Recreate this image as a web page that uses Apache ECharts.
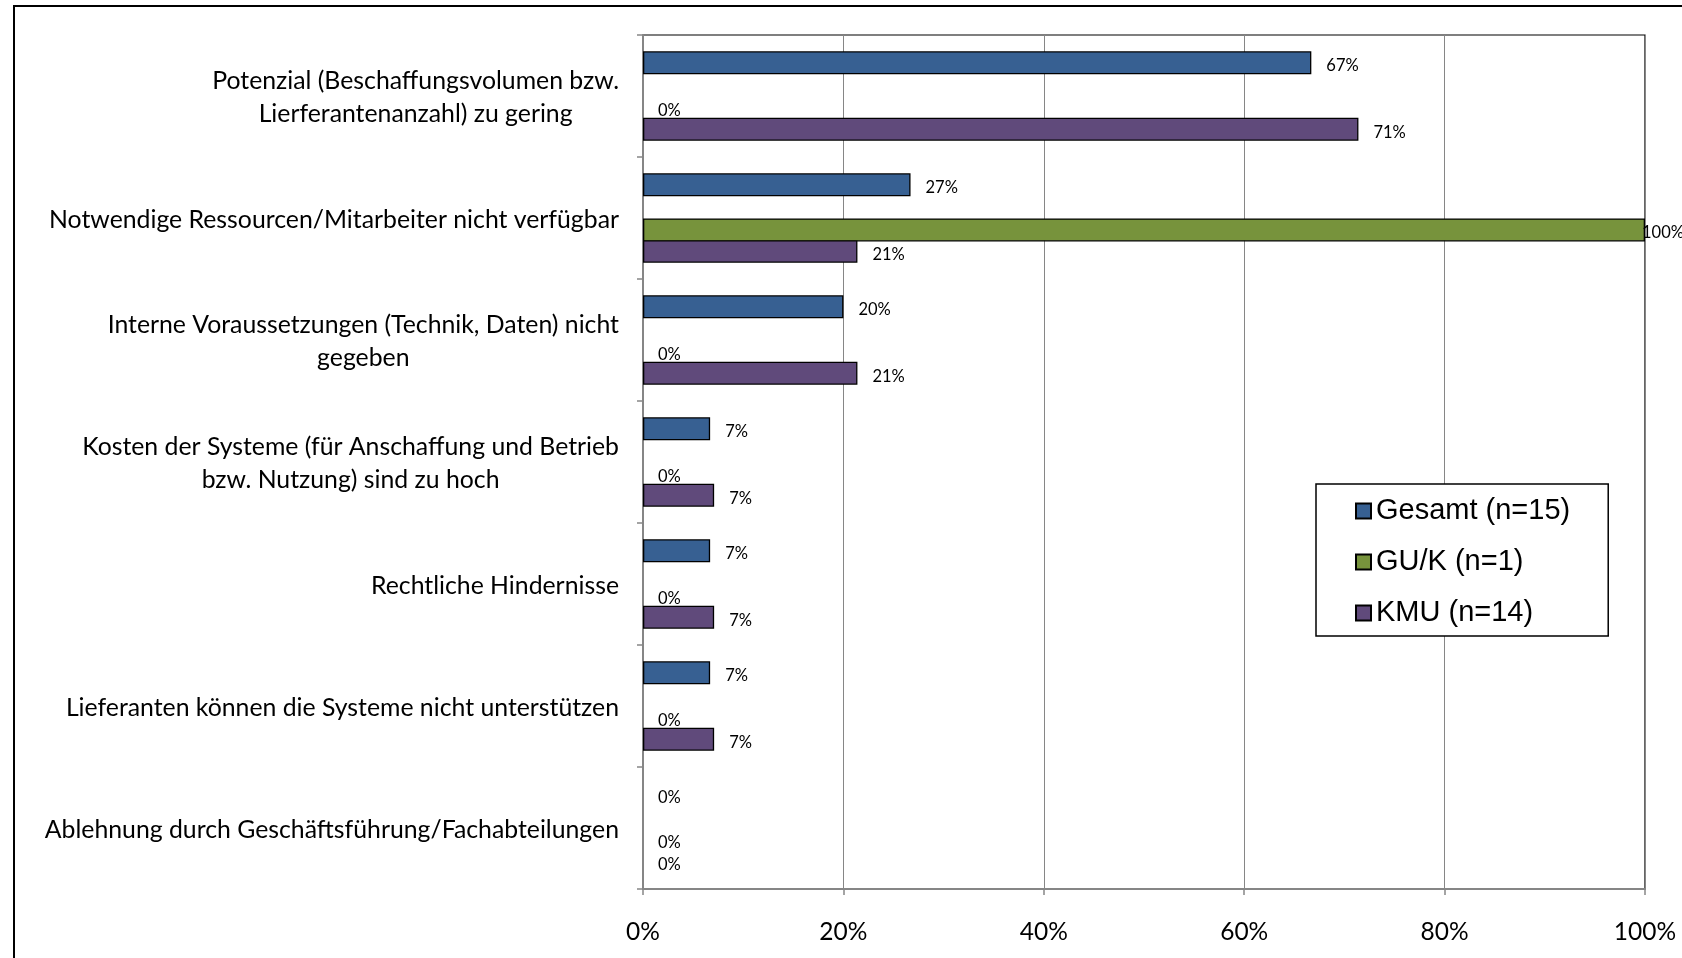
<!DOCTYPE html>
<html>
<head>
<meta charset="utf-8">
<script src="https://cdn.jsdelivr.net/npm/echarts@6/dist/echarts.min.js"></script>
<style>
html,body{margin:0;padding:0;background:#fff;}
#chart{width:1682px;height:958px;}
</style>
</head>
<body>
<div id="chart"></div>
<script>
const categories = [
  'Potenzial (Beschaffungsvolumen bzw.\nLierferantenanzahl) zu gering',
  'Notwendige Ressourcen/Mitarbeiter nicht verfügbar',
  'Interne Voraussetzungen (Technik, Daten) nicht\ngegeben',
  'Kosten der Systeme (für Anschaffung und Betrieb\nbzw. Nutzung) sind zu hoch',
  'Rechtliche Hindernisse',
  'Lieferanten können die Systeme nicht unterstützen',
  'Ablehnung durch Geschäftsführung/Fachabteilungen'
];
const seriesNames = ['Gesamt (n=15)', 'GU/K (n=1)', 'KMU (n=14)'];
const gesamt = [66.7, 26.7, 20.0, 6.7, 6.7, 6.7, 0];
const guk    = [0, 100, 0, 0, 0, 0, 0];
const kmu    = [71.4, 21.4, 21.4, 7.1, 7.1, 7.1, 0];
const xMin = 0, xMax = 100, xStep = 20;

const FONT = 'Lato, "Open Sans", sans-serif';
const colors = ['#376092', '#77933C', '#604A7B'];

const labelCfg = {
  show: true, position: 'right', distance: 15,
  fontFamily: FONT, fontSize: 16.5, color: '#000',
  offset: [0, 3],
  formatter: p => Math.round(p.value) + '%'
};
function toItems(arr) {
  return arr.map(v => {
    if (v === 0) return { value: v, itemStyle: { borderWidth: 0 } };
    if (v >= xMax) return { value: v, label: { distance: -3 } };
    return v;
  });
}
function barSeries(name, yIdx, data, color, gap) {
  return {
    type: 'bar', name: name, yAxisIndex: yIdx, barWidth: 23, barGap: gap,
    data: toItems(data),
    label: labelCfg,
    itemStyle: { color: color, borderColor: '#000', borderWidth: 1.3 }
  };
}

const chart = echarts.init(document.getElementById('chart'), null, {renderer: 'canvas'});
chart.setOption({
  animation: false,
  backgroundColor: '#fff',
  graphic: [{
    type: 'rect', z: -10, silent: true,
    shape: { x: 14, y: 6, width: 1800, height: 1000 },
    style: { fill: 'none', stroke: '#000', lineWidth: 2 }
  }],
  grid: {
    left: 643, right: 37, top: 35, bottom: 69,
    show: true, borderColor: '#000', borderWidth: 1.2, backgroundColor: '#fff'
  },
  legend: {
    orient: 'vertical', left: 1316, top: 484,
    data: seriesNames,
    icon: 'rect', itemWidth: 15, itemHeight: 15, itemGap: 21,
    padding: [12, 38, 8, 39],
    backgroundColor: '#fff', borderColor: '#000', borderWidth: 1.5,
    selectedMode: false,
    textStyle: { fontFamily: '"Liberation Sans", Arial, sans-serif', fontSize: 29, color: '#000', lineHeight: 30 }
  },
  xAxis: {
    type: 'value', min: xMin, max: xMax, interval: xStep,
    axisLine: { show: true, lineStyle: { color: '#868686', width: 2 } },
    axisTick: { show: true, length: 6, lineStyle: { color: '#868686', width: 1.5 } },
    splitLine: { show: true, lineStyle: { color: '#868686', width: 1 } },
    axisLabel: { margin: 31, fontFamily: FONT, fontSize: 24.5, color: '#000', formatter: '{value}%' }
  },
  yAxis: [{
    type: 'category', inverse: true, data: categories,
    axisLine: { show: true, lineStyle: { color: '#868686', width: 2 } },
    axisTick: { show: true, length: 6, lineStyle: { color: '#868686', width: 1.5 } },
    axisLabel: {
      margin: 24, align: 'right', color: '#000',
      fontFamily: FONT, fontSize: 24.8, lineHeight: 33,
      padding: [4, 0, 0, 0],
      formatter: v => v.split('\n').map(l => '{c|' + l + '}').join('\n'),
      rich: { c: { align: 'center', fontFamily: FONT, fontSize: 24.8, lineHeight: 33, color: '#000' } }
    }
  }, {
    type: 'category', inverse: true, data: categories, show: false
  }],
  series: [
    barSeries(seriesNames[0], 0, gesamt, colors[0], '189%'),
    barSeries(seriesNames[2], 0, kmu, colors[2], '189%'),
    { type: 'bar', name: '_spacer', yAxisIndex: 1, barWidth: 23, barGap: '4%', data: categories.map(() => '-') },
    barSeries(seriesNames[1], 1, guk, colors[1], '4%')
  ]
});
</script>
</body>
</html>
